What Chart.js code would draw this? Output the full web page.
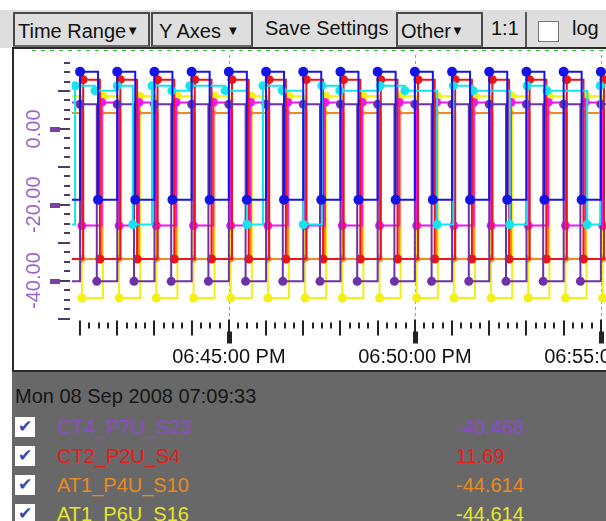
<!DOCTYPE html>
<html>
<head>
<meta charset="utf-8">
<script src="https://cdn.jsdelivr.net/npm/chart.js@4.4.1/dist/chart.umd.min.js"></script>
<style>
  html, body { margin: 0; padding: 0; }
  body { width: 606px; height: 521px; overflow: hidden; position: relative; background: #fff;
         font-family: "Liberation Sans", Arial, sans-serif; color: #111; }
  #toolbar { position: absolute; left: 0; top: 10px; width: 606px; height: 38px; background: #dedede; }
  .btn { position: absolute; top: 2px; height: 35px; box-sizing: border-box; font-size: 20px;
         line-height: 33px; white-space: nowrap; padding-left: 3px; }
  .menu { border: 2px solid #4a4a4a; border-bottom-color: #6a6a6a; }
  .arrow { font-size: 13px; vertical-align: 3px; }
  #sep { position: absolute; left: 525px; top: 2px; width: 2px; height: 35px; background: #555; }
  #logBox { position: absolute; left: 538px; top: 11px; width: 21px; height: 21px; background: #fff;
            border: 1px solid #777; box-sizing: border-box; }
  #plotBox { position: absolute; left: 12px; top: 47px; width: 720px; height: 321px;
             border: 2px solid #2b2b2b; background: #fff; }
  #chartWrap { position: absolute; left: 0; top: 1px; width: 688px; height: 320px; }
  #panel { position: absolute; left: 12px; top: 372px; width: 600px; height: 149px; background: #686868; }
  #stamp { position: absolute; left: 3px; top: 13px; font-size: 20px; color: #161616; }
  .row { position: absolute; left: 0; height: 26px; width: 600px; font-size: 20px; line-height: 26px; }
  .tick { position: absolute; left: 3px; top: 3px; width: 20px; height: 20px; background: #fff;
          color: #3a44b8; font-size: 17px; line-height: 20px; text-align: center; }
  .name { position: absolute; left: 45px; top: 0; }
  .val { position: absolute; left: 444px; top: 0; }
</style>
</head>
<body>
<div id="toolbar">
  <div class="btn menu" style="left:13px;width:137px;">Time Range<span class="arrow">&#9660;</span></div>
  <div class="btn menu" style="left:151px;width:102px;padding-left:6px;">Y Axes <span class="arrow">&#9660;</span></div>
  <div class="btn" style="left:262px;width:128px;">Save Settings</div>
  <div class="btn menu" style="left:396px;width:87px;">Other<span class="arrow">&#9660;</span></div>
  <div class="btn" style="left:488px;width:34px;">1:1</div>
  <div id="sep"></div>
  <div id="logBox"></div>
  <div class="btn" style="left:569px;width:36px;">log</div>
</div>
<div id="plotBox"><div id="chartWrap"><canvas id="chart" width="688" height="320"></canvas></div></div>
<div id="panel"><div id="stamp">Mon 08 Sep 2008 07:09:33</div></div>
<script>
// Time origin of the view: 06:40:00 PM, in seconds of the day.
const T0 = 18 * 3600 + 40 * 60;

// Sample times (seconds after T0) and values for each trace.
const blueTimes = [0,29,60,89,120,149,180,209,240,269,300,329,360,389,420,449,480,509,540,569,600,629,660,689,720,749,780,809,840,869,900,929];
const blueValues = [15.1,-18.7,15.1,-18.7,15.1,-18.7,15.1,-18.7,15.1,-18.7,15.1,-18.7,15.1,-18.7,15.1,-18.7,15.1,-18.7,15.1,-18.7,15.1,-18.7,15.1,-18.7,15.1,-18.7,15.1,-18.7,15.1,-18.7,15.1,-18.7];

const purpleTimes = [0,27,60,87,120,147,180,207,240,267,300,327,360,387,420,447,480,507,540,567,600,627,660,687,720,747,780,807,840,867,900,927];
const purpleValues = [6.5,-40.2,6.5,-40.2,6.5,-40.2,6.5,-40.2,6.5,-40.2,6.5,-40.2,6.5,-40.2,6.5,-40.2,6.5,-40.2,6.5,-40.2,6.5,-40.2,6.5,-40.2,6.5,-40.2,6.5,-40.2,6.5,-40.2,6.5,-40.2];

const redTimes = [0,5,32,65,92,125,152,185,212,245,272,305,332,365,392,425,452,485,512,545,572,605,632,665,692,725,752,785,812,845,872,905,932];
const redValues = [-34.3,13.0,-34.3,13.0,-34.3,13.0,-34.3,13.0,-34.3,13.0,-34.3,13.0,-34.3,13.0,-34.3,13.0,-34.3,13.0,-34.3,13.0,-34.3,13.0,-34.3,13.0,-34.3,13.0,-34.3,13.0,-34.3,13.0,-34.3,13.0,-34.3];

const orangeTimes = [0,5,35,65,95,125,155,185,215,245,275,305,335,365,395,425,455,485,515,545,575,605,635,665,695,725,755,785,815,845,875,905,935];
const orangeValues = [4.2,-34.3,4.2,-34.3,4.2,-34.3,4.2,-34.3,4.2,-34.3,4.2,-34.3,4.2,-34.3,4.2,-34.3,4.2,-34.3,4.2,-34.3,4.2,-34.3,4.2,-34.3,4.2,-34.3,4.2,-34.3,4.2,-34.3,4.2,-34.3,4.2];

const yellowTimes = [0,3,37,63,97,123,157,183,217,243,277,303,337,363,397,423,457,483,517,543,577,603,637,663,697,723,757,783,817,843,877,903,937];
const yellowValues = [8.6,-44.6,8.6,-44.6,8.6,-44.6,8.6,-44.6,8.6,-44.6,8.6,-44.6,8.6,-44.6,8.6,-44.6,8.6,-44.6,8.6,-44.6,8.6,-44.6,8.6,-44.6,8.6,-44.6,8.6,-44.6,8.6,-44.6,8.6,-44.6,8.6];

const magentaTimes = [0,3,35,63,95,123,155,183,215,243,275,303,335,363,395,423,455,483,515,543,575,603,635,663,695,723,755,783,815,843,875,903,935];
const magentaValues = [7.0,-25.5,7.0,-25.5,7.0,-25.5,7.0,-25.5,7.0,-25.5,7.0,-25.5,7.0,-25.5,7.0,-25.5,7.0,-25.5,7.0,-25.5,7.0,-25.5,7.0,-25.5,7.0,-25.5,7.0,-25.5,7.0,-25.5,7.0,-25.5,7.0];

const cyanTimes = [0,52,84,120,145,176,208,237,294,329,355,386,420,450,479,544,584,636,662,694,753,781,813,878,899,930];
const cyanValues = [-25.2,11.4,10.1,11.4,-25.2,11.4,10.1,11.4,10.1,-25.2,11.4,10.1,-25.2,11.4,10.1,11.4,10.1,-25.2,11.4,10.1,-25.2,11.4,10.1,-25.2,11.4,10.1];

// Axis labels.
const xLabelTimes = [300, 600, 900];
const yLabelValues = [0, -20, -40];

// Readout panel rows.
const legendNames = ['CT4_P7U_S23', 'CT2_P2U_S4', 'AT1_P4U_S10', 'AT1_P6U_S16'];
const legendValues = ['-40.468', '11.69', '-44.614', '-44.614'];
const legendColors = ['#8a4cc8', '#e81a1a', '#e88a22', '#e6e628'];

const panel = document.getElementById('panel');
legendNames.forEach((name, i) => {
  const row = document.createElement('div');
  row.className = 'row';
  row.style.top = (42 + i * 29) + 'px';
  row.innerHTML = '<div class="tick">&#10004;</div>' +
    '<div class="name" style="color:' + legendColors[i] + '">' + name + '</div>' +
    '<div class="val" style="color:' + legendColors[i] + '">' + legendValues[i] + '</div>';
  panel.appendChild(row);
});

function pad2(n) { return (n < 10 ? '0' : '') + n; }
function clockLabel(offset) {
  const s = T0 + offset;
  let h = Math.floor(s / 3600);
  const m = Math.floor((s % 3600) / 60);
  const sec = s % 60;
  const suffix = h >= 12 ? 'PM' : 'AM';
  h = h % 12 || 12;
  return pad2(h) + ':' + pad2(m) + ':' + pad2(sec) + ' ' + suffix;
}

function zip(times, values) { return times.map((t, i) => ({ x: t, y: values[i] })); }

function trace(label, times, values, color, order, extra) {
  return Object.assign({
    label, data: zip(times, values), stepped: true,
    borderColor: color, backgroundColor: color, pointBackgroundColor: color,
    pointBorderWidth: 0, pointRadius: 4.5, borderWidth: 2, fill: false, order
  }, extra || {});
}

const FONT = '"Liberation Sans", Arial, sans-serif';

// Tick marks, value labels and reference lines drawn from the chart scales.
const axisMarks = {
  id: 'axisMarks',
  beforeDatasetsDraw(chart) {
    const { ctx, chartArea: a, scales: { x } } = chart;
    ctx.save();
    ctx.strokeStyle = '#9a9a9a';
    ctx.lineWidth = 1;
    ctx.setLineDash([3, 3]);
    xLabelTimes.forEach(t => {
      const px = Math.round(x.getPixelForValue(t)) + 0.5;
      ctx.beginPath(); ctx.moveTo(px, a.top); ctx.lineTo(px, a.bottom); ctx.stroke();
    });
    ctx.strokeStyle = '#38b838';
    ctx.lineWidth = 2;
    ctx.setLineDash([4, 5]);
    ctx.beginPath(); ctx.moveTo(a.left - 40, 0); ctx.lineTo(a.right, 0); ctx.stroke();
    ctx.restore();
  },
  afterDraw(chart) {
    const { ctx, chartArea: a, scales: { x, y } } = chart;
    ctx.save();
    // y axis ticks every 2.5 units
    for (let v = 17.5; v >= -50; v -= 2.5) {
      const py = Math.round(y.getPixelForValue(v));
      ctx.fillStyle = '#4f3a66';
      if (v % 20 === 0) {
        ctx.fillRect(a.left - 13, py - 1, 11, 2);
        ctx.fillStyle = '#7b3fa6';
        ctx.fillRect(a.left - 22, py - 2, 10, 5);
      } else if (v % 10 === 0) {
        ctx.fillRect(a.left - 14, py - 1, 12, 2);
      } else {
        ctx.fillRect(a.left - 8, py - 1, 6, 2);
      }
    }
    ctx.fillStyle = '#9b63c9';
    ctx.font = '20px ' + FONT;
    ctx.textAlign = 'center';
    ctx.textBaseline = 'middle';
    yLabelValues.forEach(v => {
      const py = y.getPixelForValue(v);
      ctx.save();
      ctx.translate(20, py);
      ctx.rotate(-Math.PI / 2);
      ctx.fillText(v.toFixed(2), 0, 0);
      ctx.restore();
    });
    // x axis ticks every 15 seconds
    ctx.fillStyle = '#222';
    for (let t = 60; t <= x.max; t += 15) {
      const px = Math.round(x.getPixelForValue(t));
      if (t % 300 === 0) {
        ctx.fillRect(px - 1, a.bottom + 1, 2, 13);
        ctx.fillRect(px - 2, a.bottom + 13, 5, 12);
      } else if (t % 60 === 0) {
        ctx.fillRect(px - 1, a.bottom + 2, 2, 15);
      } else {
        ctx.fillRect(px - 1, a.bottom + 4, 2, 6);
      }
    }
    ctx.restore();
  }
};

new Chart(document.getElementById('chart'), {
  type: 'line',
  data: {
    datasets: [
      trace('CT4_P7U_S23', purpleTimes, purpleValues, '#7030a8', 2),
      trace('CT2_P2U_S4', redTimes, redValues, '#ee1414', 3),
      trace('AT1_P4U_S10', orangeTimes, orangeValues, '#f08a20', 5, { pointStyle: 'triangle', rotation: 90, pointRadius: 5 }),
      trace('AT1_P6U_S16', yellowTimes, yellowValues, '#f2f014', 6),
      trace('trace 5', magentaTimes, magentaValues, '#f414ee', 4),
      trace('trace 6', cyanTimes, cyanValues, '#14e4f0', 1),
      trace('trace 7', blueTimes, blueValues, '#1414e6', 0, { pointRadius: 5 })
    ]
  },
  options: {
    responsive: false,
    animation: false,
    events: [],
    layout: { padding: { top: 1, right: 10, left: 0, bottom: 0 } },
    plugins: { legend: { display: false }, tooltip: { enabled: false } },
    scales: {
      x: {
        type: 'linear', min: 47, max: 1047,
        afterBuildTicks: s => { s.ticks = xLabelTimes.map(v => ({ value: v })); },
        afterFit: s => { s.height = 51.5; },
        grid: { display: false, drawTicks: false },
        border: { display: false },
        ticks: {
          autoSkip: false, maxRotation: 0, minRotation: 0, padding: 27,
          color: '#111', font: { family: FONT, size: 20 },
          callback: v => clockLabel(v)
        }
      },
      y: {
        type: 'linear', min: -50, max: 19.5,
        afterFit: s => { s.width = 58; },
        grid: { display: false, drawTicks: false },
        border: { display: false },
        ticks: { display: false }
      }
    }
  },
  plugins: [axisMarks]
});
</script>
</body>
</html>
